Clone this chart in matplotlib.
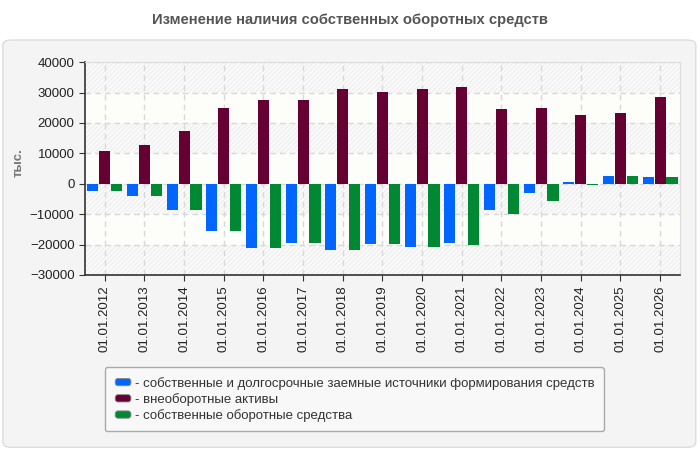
import numpy as np
import matplotlib
matplotlib.use("Agg")
import matplotlib.pyplot as plt
from matplotlib.patches import FancyBboxPatch, Patch
from matplotlib.legend_handler import HandlerPatch

# ===== DATA =====
dates = ["01.01.2012", "01.01.2013", "01.01.2014", "01.01.2015", "01.01.2016",
         "01.01.2017", "01.01.2018", "01.01.2019", "01.01.2020", "01.01.2021",
         "01.01.2022", "01.01.2023", "01.01.2024", "01.01.2025", "01.01.2026"]
own_long_term = [-2400, -4100, -8800, -15700, -21300, -19600, -21900, -19900,
                 -20900, -19600, -8800, -2900, 600, 2700, 2100]
non_current = [10600, 12900, 17500, 24800, 27400, 27700, 31000, 30300,
               31000, 31700, 24500, 24800, 22500, 23100, 28400]
working_capital = [-2400, -4100, -8800, -15700, -21300, -19600, -21900, -19900,
                   -20900, -20300, -10100, -5800, -500, 2400, 2100]
series_names = ["- собственные и долгосрочные заемные источники формирования средств",
                "- внеоборотные активы",
                "- собственные оборотные средства"]
colors = ["#0066ff", "#660033", "#008833"]

plt.rcParams['font.family'] = ['Liberation Sans', 'DejaVu Sans']
plt.rcParams['hatch.color'] = '#ececec'
plt.rcParams['hatch.linewidth'] = 0.7

fig = plt.figure(figsize=(7, 4.5), dpi=100, facecolor='white')

# outer panel
panel = FancyBboxPatch((0.004, 0.006), 0.99, 0.905, boxstyle="round,pad=0,rounding_size=0.012",
                       transform=fig.transFigure, facecolor='#f4f4f4', edgecolor='#dcdcdc',
                       linewidth=1, zorder=-1)
fig.patches.append(panel)

fig.text(0.5, 0.956, "Изменение наличия собственных оборотных средств", ha='center', va='center',
         fontsize=10.6, fontweight='bold', color='#555555')

ax = fig.add_axes([0.1214, 0.389, 0.85, 0.473])
ax.set_facecolor('white')

# ===== BACKGROUND BANDS =====
for lo in range(-30000, 40000, 10000):
    if (lo // 10000) % 2 == 1:
        ax.axhspan(lo, lo + 10000, facecolor='#fafafa', hatch='///////', edgecolor='#ececec',
                   linewidth=0, zorder=0)
    else:
        ax.axhspan(lo, lo + 10000, facecolor='#fdfdf9', linewidth=0, zorder=0)

x = np.arange(len(dates))
w = 0.28
step = 0.30
ax.bar(x - step, own_long_term, w, color=colors[0], zorder=3)
ax.bar(x, non_current, w, color=colors[1], zorder=3)
ax.bar(x + step, working_capital, w, color=colors[2], zorder=3)

ax.set_xlim(-0.5, len(dates) - 0.5)
ax.set_ylim(-30000, 40000)
ax.set_yticks(range(-30000, 40001, 10000))
ax.set_xticks(x)
ax.set_xticklabels(dates, rotation=90, fontsize=9.5, color='#222222')
ax.tick_params(axis='y', labelsize=9.5, labelcolor='#222222', length=4, color='#333333')
ax.tick_params(axis='x', length=4, color='#333333')

ax.grid(True, color='#d8d8d8', linestyle=(0, (4, 3)), linewidth=1, zorder=1)
ax.set_axisbelow(True)

for s in ['left', 'bottom']:
    ax.spines[s].set_color('#333333')
    ax.spines[s].set_linewidth(1.2)
for s in ['top', 'right']:
    ax.spines[s].set_color('#dddddd')

ax.set_ylabel("тыс.", fontsize=9.5, color='#777777', fontweight='bold')
ax.yaxis.set_label_coords(-0.101, 0.53)


# ===== LEGEND =====
class RoundHandler(HandlerPatch):
    def create_artists(self, legend, orig_handle, xdescent, ydescent, width, height, fontsize, trans):
        p = FancyBboxPatch((-xdescent + 1, -ydescent + 1), width - 2, height - 2,
                           boxstyle="round,pad=0,rounding_size=2",
                           facecolor=orig_handle.get_facecolor(), edgecolor='#888888',
                           linewidth=0.6, transform=trans)
        return [p]


handles = [Patch(facecolor=c) for c in colors]
leg = fig.legend(handles, series_names, loc='upper left', bbox_to_anchor=(0.14, 0.198),
                 bbox_transform=fig.transFigure, fontsize=9.5, frameon=True, fancybox=True,
                 handlelength=1.4, handleheight=0.8, handletextpad=0.2, labelspacing=0.25,
                 borderpad=0.7, handler_map={Patch: RoundHandler()})
leg.get_frame().set_facecolor('#f8f8f8')
leg.get_frame().set_edgecolor('#aaaaaa')
leg.get_frame().set_alpha(1)
for t in leg.get_texts():
    t.set_color('#333333')

fig.savefig("out.png", dpi=100, facecolor='white')
